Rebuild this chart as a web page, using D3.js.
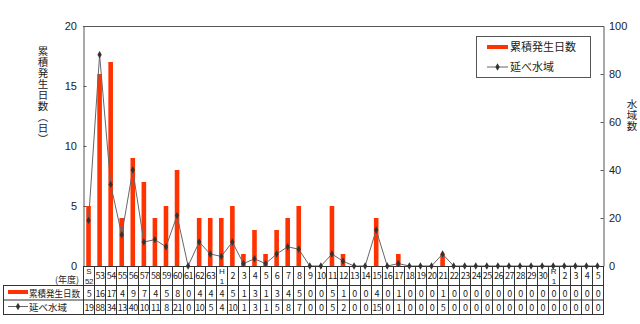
<!DOCTYPE html>
<html><head><meta charset="utf-8">
<script src="https://cdn.jsdelivr.net/npm/d3@7"></script>
<style>
body{margin:0;background:#fff;}
svg{display:block;font-family:"Noto Sans CJK JP","Liberation Sans",sans-serif;}
</style></head>
<body><svg id="c" width="640" height="324"></svg>
<script>
const categories = ["S|52","53","54","55","56","57","58","59","60","61","62","63","H|1","2","3","4","5","6","7","8","9","10","11","12","13","14","15","16","17","18","19","20","21","22","23","24","25","26","27","28","29","30","R|1","2","3","4","5"];
const days = [5,16,17,4,9,7,4,5,8,0,4,4,4,5,1,3,1,3,4,5,0,0,5,1,0,0,4,0,1,0,0,0,1,0,0,0,0,0,0,0,0,0,0,0,0,0,0];
const areas = [19,88,34,13,40,10,11,8,21,0,10,5,4,10,1,3,1,5,8,7,0,0,5,2,0,0,15,0,1,0,0,0,5,0,0,0,0,0,0,0,0,0,0,0,0,0,0];
const leftTicks = [0,5,10,15,20];
const rightTicks = [0,20,40,60,80,100];
const seriesNames = ["累積発生日数","延べ水域"];
const leftTitle = "累積発生日数(日)";
const rightTitle = "水域数";
const yearLabel = "(年度)";

const svg = d3.select("#c");
const L=83, R=603, T=26, B=266;
const idx = categories.map((d,i)=>i);
const x = d3.scaleBand().domain(idx).range([L,R]).paddingInner(0).paddingOuter(0);
const yL = d3.scaleLinear().domain([0,20]).range([B,T]);
const yR = d3.scaleLinear().domain([0,100]).range([B,T]);
const bw = x.bandwidth();
const red = "#ff3300", lineC="#666", mk="#333", axC="#555";
const latin = "Liberation Sans, Arial, sans-serif";

// frame
svg.append("line").attr("x1",L).attr("x2",R).attr("y1",T+0.5).attr("y2",T+0.5).attr("stroke",axC);
// left axis
const gl = svg.append("g").attr("transform",`translate(${L+0.5},0)`)
  .call(d3.axisRight(yL).tickValues(leftTicks).tickSize(3).tickFormat(""));
gl.select(".domain").attr("stroke",axC);
gl.selectAll(".tick line").attr("stroke",axC);
svg.append("g").selectAll("text").data(leftTicks).join("text")
  .attr("x",77).attr("y",d=>yL(d)+3.5).attr("text-anchor","end")
  .attr("font-size",11).attr("font-family",latin).attr("fill","#222").text(d=>d);
// right axis
const gr = svg.append("g").attr("transform",`translate(${R+0.5},0)`)
  .call(d3.axisLeft(yR).tickValues(rightTicks).tickSize(3).tickFormat(""));
gr.select(".domain").attr("stroke",axC);
gr.selectAll(".tick line").attr("stroke",axC);
svg.append("g").selectAll("text").data(rightTicks).join("text")
  .attr("x",609).attr("y",d=>yR(d)+3.5).attr("text-anchor","start")
  .attr("font-size",11).attr("font-family",latin).attr("fill","#222").text(d=>d);

// titles (vertical)
svg.append("text").attr("x",43).attr("y",46)
  .style("writing-mode","vertical-rl").style("letter-spacing","0.5px").attr("font-size",10.5).attr("fill","#222")
  .text(leftTitle.replace("(","（").replace(")","）"));
svg.append("text").attr("x",632).attr("y",99)
  .style("writing-mode","vertical-rl").style("letter-spacing","0.5px").attr("font-size",10.5).attr("fill","#222")
  .text(rightTitle);

// bars
svg.append("g").selectAll("rect").data(days).join("rect")
  .attr("x",(d,i)=>x(i)+bw/2-2.3).attr("width",4.6)
  .attr("y",d=>yL(d)).attr("height",d=>B-yL(d)).attr("fill",red);

// line
const line = d3.line().x((d,i)=>x(i)+bw/2).y(d=>yR(d));
svg.append("path").datum(areas).attr("d",line).attr("fill","none").attr("stroke",lineC).attr("stroke-width",1);
svg.append("g").selectAll("path").data(areas).join("path")
  .attr("transform",(d,i)=>`translate(${x(i)+bw/2},${yR(d)})`)
  .attr("d",d3.symbol(d3.symbolDiamond,16)).attr("fill",mk);

// legend
const lg = svg.append("g");
lg.append("rect").attr("x",476.5).attr("y",36.5).attr("width",114).attr("height",41).attr("fill","#fff").attr("stroke",axC);
lg.append("line").attr("x1",487).attr("x2",508).attr("y1",47).attr("y2",47).attr("stroke",red).attr("stroke-width",4);
lg.append("text").attr("x",510).attr("y",51).attr("font-size",11).attr("fill","#222").text(seriesNames[0]);
lg.append("line").attr("x1",487).attr("x2",508).attr("y1",67).attr("y2",67).attr("stroke",lineC);
lg.append("path").attr("transform","translate(497.5,67)").attr("d",d3.symbol(d3.symbolDiamond,16)).attr("fill",mk);
lg.append("text").attr("x",510).attr("y",71).attr("font-size",11).attr("fill","#222").text(seriesNames[1]);

// data table
const tb = svg.append("g");
const r0=266, r1=285, r2=299.5, r3=314, tl=3;
[r1,r2,r3].forEach(y=>tb.append("line").attr("x1",tl).attr("x2",R+0.5).attr("y1",y+0.5).attr("y2",y+0.5).attr("stroke","#333"));
tb.append("line").attr("x1",L).attr("x2",R).attr("y1",r0+0.5).attr("y2",r0+0.5).attr("stroke","#333");
tb.append("line").attr("x1",tl+0.5).attr("x2",tl+0.5).attr("y1",r1).attr("y2",r3+1).attr("stroke","#333");
tb.selectAll("line.v").data(idx.concat([categories.length])).join("line").attr("class","v")
  .attr("x1",i=>Math.round(i<categories.length?x(i):R)+0.5).attr("x2",i=>Math.round(i<categories.length?x(i):R)+0.5)
  .attr("y1",r0).attr("y2",r3+1).attr("stroke","#333");
// header labels
categories.forEach((c,i)=>{
  const cx = x(i)+bw/2+0.5;
  const p = c.split("|");
  if(p.length===2){
    tb.append("text").attr("x",cx).attr("y",273.5).attr("text-anchor","middle").attr("font-size",8).attr("font-family",latin).attr("fill","#222").text(p[0]);
    tb.append("text").attr("x",cx).attr("y",283.5).attr("text-anchor","middle").attr("font-size",8).attr("font-family",latin).attr("letter-spacing",-0.3).attr("fill","#222").text(p[1]);
  } else {
    tb.append("text").attr("x",cx).attr("y",279).attr("text-anchor","middle").attr("font-size",9).attr("letter-spacing",-0.5).attr("fill","#222").text(p[0]);
  }
});
tb.append("text").attr("x",79).attr("y",282.5).attr("text-anchor","end").attr("font-size",9).attr("fill","#222").text(yearLabel);
tb.selectAll("text.d1").data(days).join("text").attr("class","d1")
  .attr("x",(d,i)=>x(i)+bw/2+0.5).attr("y",296.5).attr("text-anchor","middle").attr("font-size",9).attr("letter-spacing",-0.5).attr("fill","#222").text(d=>d);
tb.selectAll("text.d2").data(areas).join("text").attr("class","d2")
  .attr("x",(d,i)=>x(i)+bw/2+0.5).attr("y",310.5).attr("text-anchor","middle").attr("font-size",9).attr("letter-spacing",-0.5).attr("fill","#222").text(d=>d);
// row labels
tb.append("line").attr("x1",8).attr("x2",28).attr("y1",292).attr("y2",292).attr("stroke",red).attr("stroke-width",4);
tb.append("text").attr("x",29).attr("y",296.5).attr("font-size",9.5).attr("textLength",51).attr("lengthAdjust","spacingAndGlyphs").attr("fill","#222").text(seriesNames[0]);
tb.append("line").attr("x1",8).attr("x2",28).attr("y1",306.5).attr("y2",306.5).attr("stroke",lineC);
tb.append("path").attr("transform","translate(18,306.5)").attr("d",d3.symbol(d3.symbolDiamond,16)).attr("fill",mk);
tb.append("text").attr("x",29).attr("y",310.5).attr("font-size",9.5).attr("fill","#222").text(seriesNames[1]);
</script></body></html>
